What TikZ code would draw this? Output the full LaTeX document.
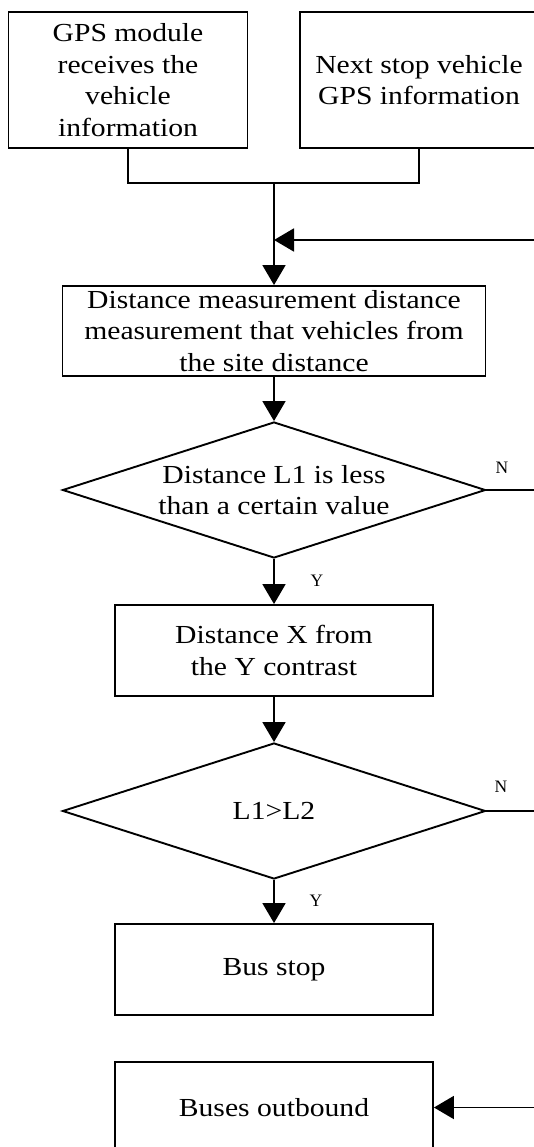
\documentclass[tikz,border=0pt]{standalone}
\usepackage{fontspec}
\setmainfont{Liberation Serif}[FakeStretch=1.14]
\newfontfamily\labfont{Liberation Serif}
\usetikzlibrary{arrows.meta,shapes.geometric,positioning}

\begin{document}
\begin{tikzpicture}[x=1pt,y=-1pt,line width=1.9pt,
  box/.style={rectangle,draw,inner sep=0pt,align=center,font=\fontsize{26}{31.5}\selectfont},
  dec/.style={diamond,draw,aspect=3.1,inner sep=0pt,minimum width=423pt,minimum height=136pt,align=center,font=\fontsize{26}{31.5}\selectfont},
  lab/.style={font=\labfont\fontsize{17.5}{20}\selectfont},
  arr/.style={-{Triangle[length=20pt,width=23pt]}}]
  \useasboundingbox (0,0) rectangle (534,1147);
  \clip (0,0) rectangle (534,1147);
  \node[box,minimum width=239pt,minimum height=136pt] (gps) at (128,80) {GPS module\\receives the\\vehicle\\information};
  \node[box,minimum width=238pt,minimum height=136pt] (next) at (419,80) {Next stop vehicle\\GPS information};
  \node[box,minimum width=423pt,minimum height=90pt] (meas) at (274,331) {Distance measurement distance\\measurement that vehicles from\\the site distance};
  \node[dec] (less) at (274,490) {Distance L1 is less\\than a certain value};
  \node[box,minimum width=318pt,minimum height=91pt] (cmp) at (274,650.5) {Distance X from\\the Y contrast};
  \node[dec] (ll) at (274,811) {L1>L2};
  \node[box,minimum width=318pt,minimum height=91pt] (stop) at (274,969.5) {Bus stop};
  \node[box,minimum width=318pt,minimum height=91pt] (out) at (274,1107.5) {Buses outbound};
  \node[lab] (n1) at (502,468) {N};
  \node[lab] (y1) at (317,581) {Y};
  \node[lab] (n2) at (501,787) {N};
  \node[lab] (y2) at (316,901) {Y};
  \coordinate (join) at (274,183);
  \coordinate (back) at (274,240);
  \coordinate (rside) at (560,0);
  % inputs merge into one line
  \draw (gps.south) |- (join) -| (next.south);
  \draw[arr] (join) -- (meas.north);
  \draw[arr] (meas) -- (less);
  \draw[arr] (less) -- (cmp);
  \draw[arr] (cmp) -- (ll);
  \draw[arr] (ll) -- (stop);
  % N branches
  \draw[arr] (less.east) -- (less.east -| rside) |- (back);
  \draw[arr] (ll.east) -- (ll.east -| rside) |- (out.east);
\end{tikzpicture}
\end{document}
